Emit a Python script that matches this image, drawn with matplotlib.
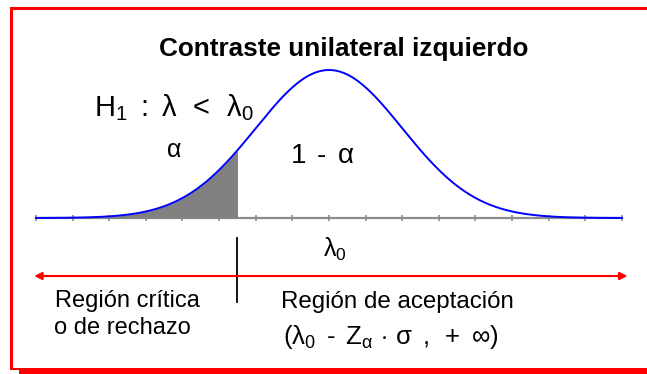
import matplotlib
matplotlib.use('Agg')
import matplotlib.pyplot as plt
import matplotlib.patches as patches
import numpy as np

# Distribution set-up (in tick units along the axis)
ticks = list(range(17))
mean = 8.0
sigma = 2.0
critical = 5.5

HY = '\u2010'  # plain hyphen, mathtext would turn '-' into a long minus
title = 'Contraste unilateral izquierdo'
h1_label = r'$\mathrm{H_1\ :\ \lambda\ \,<\ \,\lambda_0}$'
alpha_label = r'$\mathrm{\alpha}$'
one_minus_alpha = r'$\mathrm{1\ \,' + HY + r'\ \,\alpha}$'
lambda0_label = r'$\mathrm{\lambda_0}$'
crit_lines = ['Región crítica', 'o de rechazo']
accept_label = 'Región de aceptación'
interval_label = (r'$\mathrm{(\lambda_0\ \,' + HY +
                  r'\ \,Z_\alpha\,\cdot\,\sigma\ \,,\ +\ \infty)}$')

plt.rcParams['font.family'] = ['Liberation Sans', 'DejaVu Sans']
plt.rcParams['mathtext.fontset'] = 'custom'
plt.rcParams['mathtext.rm'] = 'Liberation Sans'
plt.rcParams['mathtext.it'] = 'Liberation Sans:italic'

W, H = 647, 374
fig = plt.figure(figsize=(W / 100, H / 100), dpi=100)

# pixel geometry of the axis
x0_px, step_px = 36, 36.625
base_px, peak_px = 218, 70
yscale = base_px - peak_px

ax = fig.add_axes([0, 0, 1, 1])
ax.set_xlim(-x0_px / step_px, (W - x0_px) / step_px)
ax.set_ylim((base_px - H) / yscale, base_px / yscale)
ax.axis('off')

# frame in pixel coords
frame = fig.add_axes([0, 0, 1, 1], zorder=-1)
frame.set_xlim(0, W)
frame.set_ylim(H, 0)
frame.axis('off')
red = '#ff0000'
frame.add_patch(patches.Rectangle((10, 7), W - 10, 2.5, color=red, lw=0))
frame.add_patch(patches.Rectangle((10, 7), 2.5, 362, color=red, lw=0))
frame.add_patch(patches.Rectangle((10, 367.5), W - 10, 2, color=red, lw=0))
frame.add_patch(patches.Rectangle((19, 369), W - 19, 6, color=red, lw=0))

# axis line and ticks
ax.plot([ticks[0], ticks[-1]], [0, 0], color='#8c8c8c', lw=1.6, zorder=1)
ax.vlines(ticks, -0.018, 0.018, color='#8c8c8c', lw=1.2, zorder=1)

# normal curve
x = np.linspace(ticks[0], ticks[-1], 600)
y = np.exp(-0.5 * ((x - mean) / sigma) ** 2)
xs = np.append(x[x < critical], critical)
ys = np.exp(-0.5 * ((xs - mean) / sigma) ** 2)
ax.fill_between(xs, 0, ys, color='#808080', lw=0, zorder=2)
ax.plot(x, y, color='#0000ff', lw=1.4, zorder=3)

# critical marker and red double arrow
ax.plot([critical, critical], [-0.135, -0.57], color='black', lw=1.3)
ax.annotate('', xy=(ticks[0] - 0.05, -0.392), xytext=(ticks[-1] + 0.15, -0.392),
            arrowprops=dict(arrowstyle='<|-|>', color=red, lw=1.5,
                            mutation_scale=11, shrinkA=0, shrinkB=0))

# texts (pixel positions)
frame.text(344, 56, title, ha='center', va='baseline', fontsize=18.8,
           fontweight='bold')
frame.text(94, 116, h1_label, ha='left', va='baseline', fontsize=21)
frame.text(166, 157, alpha_label, ha='left', va='baseline', fontsize=18)
frame.text(290, 163, one_minus_alpha, ha='left', va='baseline', fontsize=20)
frame.text(323, 257, lambda0_label, ha='left', va='baseline', fontsize=18)
frame.text(55, 307, crit_lines[0], ha='left', va='baseline', fontsize=17)
frame.text(54, 334, crit_lines[1], ha='left', va='baseline', fontsize=17)
frame.text(281, 308, accept_label, ha='left', va='baseline', fontsize=17.4)
frame.text(283, 344, interval_label, ha='left', va='baseline', fontsize=18.5)

fig.savefig('out.png', dpi=100)
